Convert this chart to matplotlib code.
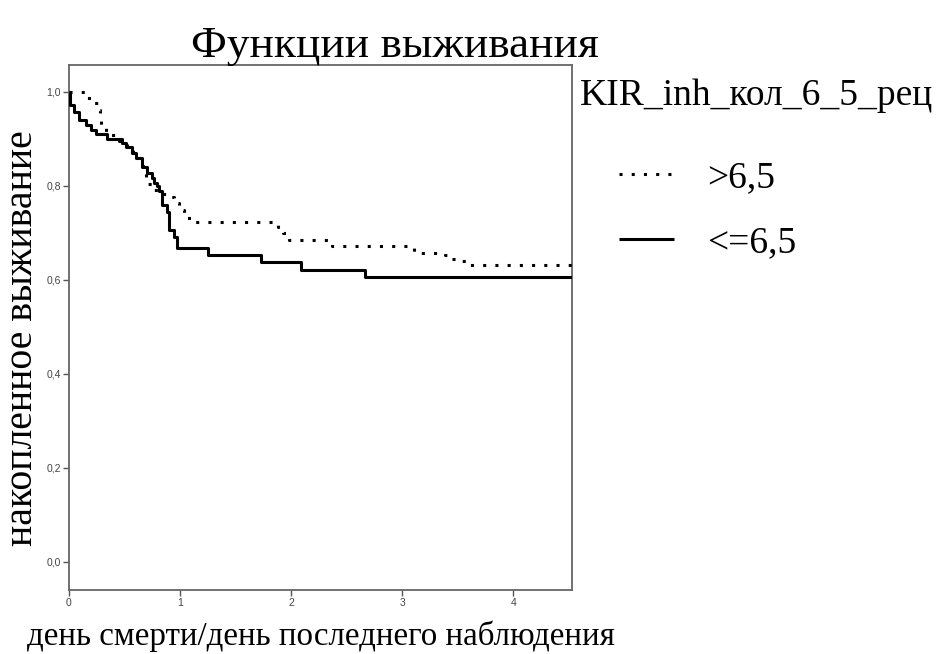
import numpy as np
import matplotlib
matplotlib.use("Agg")
import matplotlib.pyplot as plt
from matplotlib.ticker import FuncFormatter

# Kaplan-Meier step points for the two groups
time_hi = [0, 0.165, 0.21, 0.264, 0.276, 0.29, 0.33, 0.45, 0.52, 0.58,
           0.63, 0.67, 0.697, 0.75, 0.80, 0.90, 0.946, 0.99, 1.036, 1.08,
           1.88, 1.925, 1.985, 2.37, 3.045, 3.11, 3.39, 3.45, 3.53, 3.60]
surv_hi = [1.0, 0.986, 0.976, 0.962, 0.943, 0.923, 0.909, 0.895, 0.880, 0.866,
           0.850, 0.835, 0.803, 0.792, 0.783, 0.777, 0.763, 0.749, 0.735, 0.724,
           0.713, 0.699, 0.685, 0.672, 0.667, 0.658, 0.653, 0.644, 0.639, 0.632]

time_lo = [0, 0.01, 0.045, 0.09, 0.15, 0.195, 0.24, 0.345, 0.48, 0.51,
           0.57, 0.60, 0.66, 0.705, 0.75, 0.766, 0.796, 0.81, 0.84, 0.886,
           0.90, 0.946, 0.976, 1.25, 1.73, 2.09, 2.67]
surv_lo = [1.0, 0.972, 0.958, 0.940, 0.930, 0.919, 0.911, 0.899, 0.891, 0.882,
           0.870, 0.859, 0.841, 0.827, 0.816, 0.806, 0.799, 0.788, 0.760, 0.745,
           0.706, 0.692, 0.668, 0.653, 0.637, 0.621, 0.606]

group_labels = [">6,5", "<=6,5"]
x_ticks = [0, 1, 2, 3, 4]
y_ticks = [0.0, 0.2, 0.4, 0.6, 0.8, 1.0]
x_max = 4.53

serif = "Liberation Serif"
sans = "Liberation Sans"
W, H = 936, 654

fig = plt.figure(figsize=(W / 100, H / 100), dpi=100)
ax = fig.add_axes([69 / W, 1 - 590 / H, (572 - 69) / W, (590 - 65) / H])

# extend each curve flat to the end of the axis
th = np.append(time_hi, x_max)
sh = np.append(surv_hi, surv_hi[-1])
tl = np.append(time_lo, x_max)
sl = np.append(surv_lo, surv_lo[-1])

line_hi, = ax.plot(th, sh, drawstyle="steps-post", color="black", lw=2.2,
                   linestyle=(0, (1, 3)), dash_capstyle="butt", zorder=3)
line_lo, = ax.plot(tl, sl, drawstyle="steps-post", color="black", lw=2.2,
                   solid_capstyle="butt", zorder=4)

ax.set_xlim(0, x_max)
ax.set_ylim(-0.06, 1.057)
ax.set_xticks(x_ticks)
ax.set_yticks(y_ticks)
ax.xaxis.set_major_formatter(FuncFormatter(lambda v, p: f"{v:.0f}"))
ax.yaxis.set_major_formatter(FuncFormatter(lambda v, p: f"{v:.1f}".replace(".", ",")))
ax.tick_params(direction="out", length=4.5, width=1, color="#555555",
               labelsize=7.5, labelcolor="#444444", pad=1.5)
for lab in ax.get_xticklabels() + ax.get_yticklabels():
    lab.set_fontfamily(sans)
for sp in ax.spines.values():
    sp.set_color("#666666")
    sp.set_linewidth(1.3)

# titles and axis captions
fig.text(395 / W, 1 - 57 / H, "Функции выживания", family=serif,
         fontsize=32.7, ha="center", va="baseline")
fig.text(321 / W, 1 - 645 / H, "день смерти/день последнего наблюдения",
         family=serif, fontsize=23.8, ha="center", va="baseline")
fig.text(23 / W, 1 - 338 / H, "накопленное выживание", family=serif,
         fontsize=28.6, rotation=90, ha="center", va="center")

# legend
fig.text(580 / W, 1 - 105 / H, "KIR_inh_кол_6_5_рец", family=serif,
         fontsize=27, ha="left", va="baseline")
leg = fig.legend([line_hi, line_lo], group_labels, loc="upper left",
                 bbox_to_anchor=(619 / W, 1 - 161 / H), frameon=False,
                 prop={"family": serif, "size": 27}, borderpad=0,
                 borderaxespad=0, handlelength=1.47, handletextpad=0.88,
                 labelspacing=0.8)

fig.savefig("out.png", dpi=100)
